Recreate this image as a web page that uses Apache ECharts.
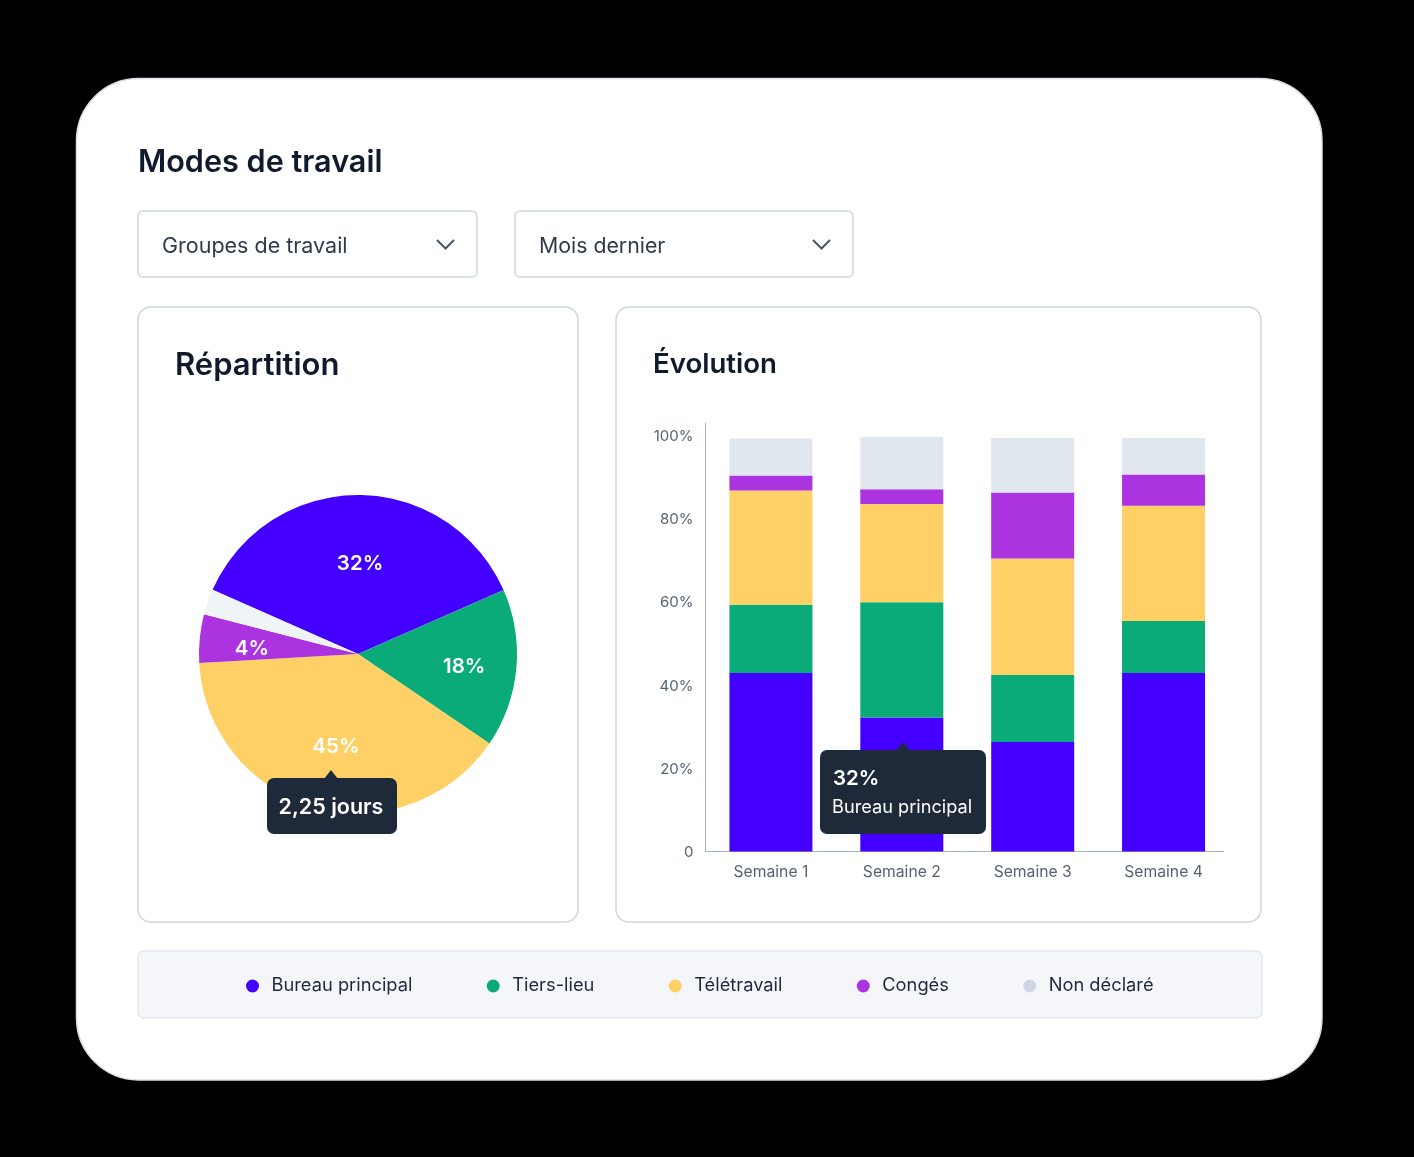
<!DOCTYPE html>
<html>
<head>
<meta charset="utf-8">
<title>Modes de travail</title>
<style>
html,body{margin:0;padding:0;background:#000;}
#main{width:1414px;height:1157px;}
</style>
<script src="https://cdn.jsdelivr.net/npm/echarts@6/dist/echarts.min.js"></script>
</head>
<body>
<div id="main"></div>
<script>
// données
var weeks = ['Semaine 1', 'Semaine 2', 'Semaine 3', 'Semaine 4'];
var bureau = [42.9, 32.2, 26.3, 42.9];
var tiersLieu = [16.4, 27.7, 16.1, 12.5];
var teletravail = [27.5, 23.6, 28, 27.7];
var conges = [3.6, 3.6, 15.9, 7.5];
var nonDeclare = [8.9, 12.6, 13.1, 8.8];

var seriesNames = ['Bureau principal', 'Tiers-lieu', 'Télétravail', 'Congés', 'Non déclaré'];
var pieValues = [36.8, 16.1, 39.6, 4.9, 2.6];
var pieLabels = ['32%', '18%', '45%', '4%', ''];

var colors = ['#4400ff', '#0aab78', '#ffd066', '#ab33e0', '#e1e7ef'];
var legendColors = ['#4400ff', '#0aab78', '#ffd066', '#ab33e0', '#cdd6e2'];
var pieColors = ['#4400ff', '#0aab78', '#ffd066', '#ab33e0', '#eff4f7'];
var pieLabelOffsets = [[2, -8], [24, 5], [0, 13], [-24, 3], [0, 0]];

var FONT = 'Inter, "Noto Sans", sans-serif';
var DARK = '#0f1b2d';
var BORDER = '#ced6de';
var TIP = '#1e2939';

function card(x, y, w, h, r, fill, stroke) {
    return {
        type: 'rect',
        shape: {x: x, y: y, width: w, height: h, r: r},
        style: {fill: fill, stroke: stroke, lineWidth: 1.5},
        silent: true
    };
}
function label(text, x, y, size, weight, color, align) {
    return {
        type: 'text',
        x: x,
        y: y,
        style: {
            text: text,
            fontFamily: FONT,
            fontSize: size,
            fontWeight: weight,
            fill: color,
            align: align || 'left',
            verticalAlign: 'middle'
        },
        silent: true
    };
}
function chevron(x, y) {
    return {
        type: 'polyline',
        shape: {points: [[x, y], [x + 8.5, y + 8.5], [x + 17, y]]},
        style: {fill: 'none', stroke: '#47566a', lineWidth: 2},
        silent: true
    };
}
// bulle d'info : au-dessus des barres et du camembert
function bubble(x, y, w, h, tipX) {
    return [
        {
            type: 'rect', z: 100,
            shape: {x: x, y: y, width: w, height: h, r: 7},
            style: {fill: TIP},
            silent: true
        },
        {
            type: 'polygon', z: 100,
            shape: {points: [[tipX - 7, y + 1], [tipX, y - 8], [tipX + 7, y + 1]]},
            style: {fill: TIP},
            silent: true
        }
    ];
}
function onTop(el) {
    el.z = 101;
    return el;
}

var graphics = [
    card(76.5, 78.5, 1245.5, 1001.5, 62, '#ffffff', '#d9dfe6'),
    label('Modes de travail', 138, 163, 30.6, 600, DARK),
    card(138, 211, 339, 66, 5, '#ffffff', BORDER),
    label('Groupes de travail', 162, 246.5, 21.5, 400, '#2f3a4c'),
    chevron(437, 240),
    card(515, 211, 338, 66, 5, '#ffffff', BORDER),
    label('Mois dernier', 539, 246.5, 21.3, 400, '#2f3a4c'),
    chevron(813, 240),
    card(138, 307, 440, 615, 13, '#ffffff', BORDER),
    label('Répartition', 175, 366, 31, 600, DARK),
    card(616, 307, 645, 615, 13, '#ffffff', BORDER),
    label('Évolution', 653, 365, 27.6, 600, DARK),
    card(138, 951, 1124, 67, 6, '#f4f6fa', '#e4e8ee'),
    {
        type: 'line',
        shape: {x1: 705, y1: 851.5, x2: 1224, y2: 851.5},
        style: {stroke: '#a9b2c3', lineWidth: 1},
        silent: true
    }
];
graphics = graphics
    .concat(bubble(267, 778, 130, 56, 331))
    .concat([onTop(label('2,25 jours', 331, 808, 21.5, 600, '#ffffff', 'center'))])
    .concat(bubble(820, 750, 166, 84, 903))
    .concat([
        onTop(label('32%', 833, 779, 20.5, 600, '#ffffff')),
        onTop(label('Bureau principal', 832, 808, 18.2, 400, '#ffffff'))
    ]);

var barData = [bureau, tiersLieu, teletravail, conges, nonDeclare];
var series = [];
for (var i = 0; i < seriesNames.length; i++) {
    series.push({
        name: seriesNames[i],
        type: 'bar',
        stack: 'total',
        barWidth: 83,
        itemStyle: {color: colors[i]},
        data: barData[i],
        silent: true
    });
}
var pieData = [];
for (var j = 0; j < pieValues.length; j++) {
    pieData.push({
        name: seriesNames[j],
        value: pieValues[j],
        itemStyle: {color: pieColors[j]},
        label: {show: pieLabels[j] !== '', offset: pieLabelOffsets[j]}
    });
}
series.push({
    name: 'Répartition',
    type: 'pie',
    center: [358, 654],
    radius: 159,
    startAngle: 156.2,
    clockwise: true,
    silent: true,
    label: {
        position: 'inside',
        color: '#ffffff',
        fontFamily: FONT,
        fontSize: 20.5,
        fontWeight: 600,
        formatter: function (p) { return pieLabels[p.dataIndex]; }
    },
    labelLine: {show: false},
    data: pieData
});

var legendData = [];
for (var k = 0; k < seriesNames.length; k++) {
    legendData.push({name: seriesNames[k], itemStyle: {color: legendColors[k]}});
}

var myChart = echarts.init(document.getElementById('main'));
myChart.setOption({
    backgroundColor: '#000000',
    animation: false,
    graphic: {elements: graphics},
    legend: {
        left: 241,
        top: 972,
        icon: 'circle',
        itemWidth: 28,
        itemHeight: 13,
        itemGap: 74.3,
        selectedMode: false,
        textStyle: {fontFamily: FONT, fontSize: 18.3, color: '#1e293b'},
        data: legendData
    },
    grid: {left: 705.5, width: 523.5, top: 423, bottom: 305.5, containLabel: false},
    xAxis: {
        type: 'category',
        data: weeks,
        axisLine: {show: false},
        axisTick: {show: false},
        axisLabel: {color: '#566273', fontFamily: FONT, fontSize: 15.7, margin: 13}
    },
    yAxis: {
        type: 'value',
        min: 0,
        max: 103,
        interval: 20,
        splitLine: {show: false},
        axisTick: {show: false},
        axisLine: {show: true, lineStyle: {color: '#a9b2c3', width: 1}},
        axisLabel: {
            showMaxLabel: false,
            color: '#566273',
            fontFamily: FONT,
            fontSize: 15,
            margin: 12,
            verticalAlign: 'top',
            lineHeight: 2,
            formatter: function (v) { return v === 0 ? '0' : v + '%'; }
        }
    },
    series: series
});
</script>
</body>
</html>
